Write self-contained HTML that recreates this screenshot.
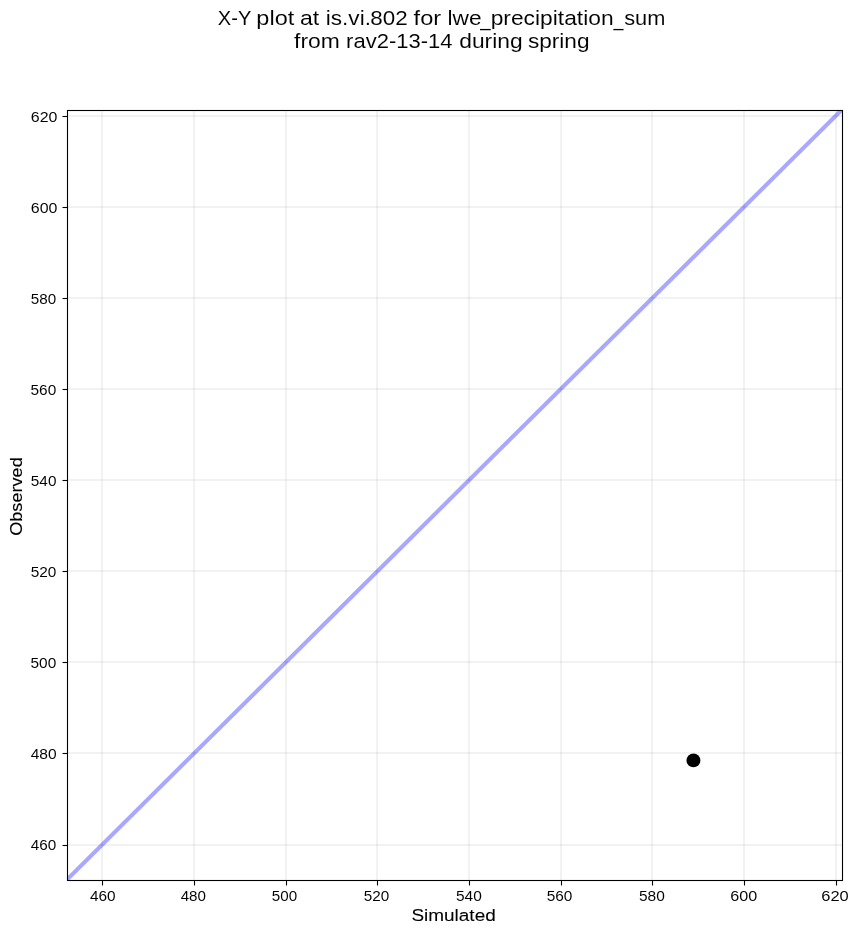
<!DOCTYPE html>
<html lang="en">
<head>
<meta charset="utf-8">
<title>X-Y plot at is.vi.802 for lwe_precipitation_sum</title>
<style>
html,body{margin:0;padding:0;background:#ffffff;}
body{width:858px;height:934px;overflow:hidden;}
svg{display:block;will-change:transform;}
text{font-family:"Liberation Sans",sans-serif;fill:#000000;}
.tick{font-size:14.1px;}
.tick text{stroke:#ffffff;stroke-width:0.03px;}
.lab{stroke:#000000;stroke-width:0.08px;}
.labv{stroke:#000000;stroke-width:0.135px;}
.ttl{stroke:#ffffff;stroke-width:0.06px;}
.lab{font-size:17.1px;}
.ttl{font-size:20px;}
</style>
</head>
<body>
<svg width="858" height="934" viewBox="0 0 858 934">
<rect x="0" y="0" width="858" height="934" fill="#ffffff"/>
<defs><clipPath id="ax"><rect x="67.5" y="110.5" width="775.0" height="770.0"/></clipPath></defs>

<g clip-path="url(#ax)">
<circle cx="693.45" cy="760.4" r="6.95" fill="#000000"/>
<g fill="rgba(128,128,128,0.10)" shape-rendering="crispEdges">
<rect x="101" y="110.5" width="2" height="770.0"/>
<rect x="193" y="110.5" width="2" height="770.0"/>
<rect x="285" y="110.5" width="2" height="770.0"/>
<rect x="376" y="110.5" width="2" height="770.0"/>
<rect x="468" y="110.5" width="2" height="770.0"/>
<rect x="560" y="110.5" width="2" height="770.0"/>
<rect x="651" y="110.5" width="2" height="770.0"/>
<rect x="743" y="110.5" width="2" height="770.0"/>
<rect x="835" y="110.5" width="2" height="770.0"/>
<rect x="67.5" y="844" width="775.0" height="2"/>
<rect x="67.5" y="752" width="775.0" height="2"/>
<rect x="67.5" y="661" width="775.0" height="2"/>
<rect x="67.5" y="570" width="775.0" height="2"/>
<rect x="67.5" y="479" width="775.0" height="2"/>
<rect x="67.5" y="388" width="775.0" height="2"/>
<rect x="67.5" y="297" width="775.0" height="2"/>
<rect x="67.5" y="206" width="775.0" height="2"/>
<rect x="67.5" y="115" width="775.0" height="2"/>
</g>
<line x1="67.5" y1="879.1" x2="842.5" y2="109.1" stroke="rgba(0,0,255,0.34)" stroke-width="4.1" stroke-linecap="square"/>
</g>
<g stroke="#000000" stroke-width="1.1">
<line x1="102.5" y1="880.5" x2="102.5" y2="885.5"/>
<line x1="194.5" y1="880.5" x2="194.5" y2="885.5"/>
<line x1="286.5" y1="880.5" x2="286.5" y2="885.5"/>
<line x1="377.5" y1="880.5" x2="377.5" y2="885.5"/>
<line x1="469.5" y1="880.5" x2="469.5" y2="885.5"/>
<line x1="561.5" y1="880.5" x2="561.5" y2="885.5"/>
<line x1="652.5" y1="880.5" x2="652.5" y2="885.5"/>
<line x1="744.5" y1="880.5" x2="744.5" y2="885.5"/>
<line x1="836.5" y1="880.5" x2="836.5" y2="885.5"/>
<line x1="62.5" y1="845.5" x2="67.5" y2="845.5"/>
<line x1="62.5" y1="753.5" x2="67.5" y2="753.5"/>
<line x1="62.5" y1="662.5" x2="67.5" y2="662.5"/>
<line x1="62.5" y1="571.5" x2="67.5" y2="571.5"/>
<line x1="62.5" y1="480.5" x2="67.5" y2="480.5"/>
<line x1="62.5" y1="389.5" x2="67.5" y2="389.5"/>
<line x1="62.5" y1="298.5" x2="67.5" y2="298.5"/>
<line x1="62.5" y1="207.5" x2="67.5" y2="207.5"/>
<line x1="62.5" y1="116.5" x2="67.5" y2="116.5"/>
</g>
<rect x="67.5" y="110.5" width="775.0" height="770.0" fill="none" stroke="#000000" stroke-width="1.1"/>
<g class="tick">
<text x="89.92" y="900.9" textLength="25.69" lengthAdjust="spacingAndGlyphs">460</text>
<text x="180.66" y="900.9" textLength="25.29" lengthAdjust="spacingAndGlyphs">480</text>
<text x="271.83" y="900.9" textLength="25.38" lengthAdjust="spacingAndGlyphs">500</text>
<text x="363.82" y="900.9" textLength="25.45" lengthAdjust="spacingAndGlyphs">520</text>
<text x="456.0" y="900.9" textLength="25.84" lengthAdjust="spacingAndGlyphs">540</text>
<text x="546.72" y="900.9" textLength="25.69" lengthAdjust="spacingAndGlyphs">560</text>
<text x="639.0" y="900.9" textLength="25.84" lengthAdjust="spacingAndGlyphs">580</text>
<text x="730.38" y="900.9" textLength="26.96" lengthAdjust="spacingAndGlyphs">600</text>
<text x="821.22" y="900.9" textLength="27.48" lengthAdjust="spacingAndGlyphs">620</text>
<text x="30.87" y="849.8" textLength="25.51" lengthAdjust="spacingAndGlyphs">460</text>
<text x="30.68" y="758.9" textLength="25.95" lengthAdjust="spacingAndGlyphs">480</text>
<text x="30.54" y="667.9" textLength="25.74" lengthAdjust="spacingAndGlyphs">500</text>
<text x="30.72" y="576.9" textLength="25.69" lengthAdjust="spacingAndGlyphs">520</text>
<text x="30.83" y="485.9" textLength="25.58" lengthAdjust="spacingAndGlyphs">540</text>
<text x="30.54" y="394.9" textLength="25.74" lengthAdjust="spacingAndGlyphs">560</text>
<text x="30.83" y="303.9" textLength="25.38" lengthAdjust="spacingAndGlyphs">580</text>
<text x="30.87" y="212.9" textLength="26.64" lengthAdjust="spacingAndGlyphs">600</text>
<text x="30.87" y="121.9" textLength="26.64" lengthAdjust="spacingAndGlyphs">620</text>
</g>
<text class="lab" x="411.4" y="921.2" textLength="84.34" lengthAdjust="spacingAndGlyphs">Simulated</text>
<text class="lab labv" transform="translate(22.2 535.85) rotate(-90)" x="0" y="0" textLength="78.61" lengthAdjust="spacingAndGlyphs">Observed</text>
<text class="ttl" x="217.8" y="25.0" textLength="33.5" lengthAdjust="spacingAndGlyphs">X-Y</text>
<text class="ttl" x="256.39" y="25.0" textLength="37.82" lengthAdjust="spacingAndGlyphs">plot</text>
<text class="ttl" x="299.99" y="25.0" textLength="19.24" lengthAdjust="spacingAndGlyphs">at</text>
<text class="ttl"><tspan x="325.8" y="25.0" textLength="45.13" lengthAdjust="spacingAndGlyphs">is.vi.</tspan><tspan x="370.39" y="25.0" textLength="37.35" lengthAdjust="spacingAndGlyphs">802</tspan></text>
<text class="ttl" x="413.61" y="25.0" textLength="27.56" lengthAdjust="spacingAndGlyphs">for</text>
<text class="ttl"><tspan x="447.46" y="25.0" textLength="34.07" lengthAdjust="spacingAndGlyphs">lwe</tspan><tspan x="480.13" y="25.5" textLength="10.4" lengthAdjust="spacingAndGlyphs">_</tspan><tspan x="490.7" y="25.0" textLength="122.87" lengthAdjust="spacingAndGlyphs">precipitation</tspan><tspan x="613.58" y="25.5" textLength="9.9" lengthAdjust="spacingAndGlyphs">_</tspan><tspan x="624.15" y="25.0" textLength="41.19" lengthAdjust="spacingAndGlyphs">sum</tspan></text>
<text class="ttl" x="294.04" y="47.9" textLength="45.74" lengthAdjust="spacingAndGlyphs">from</text>
<text class="ttl" x="346.1" y="47.9" textLength="106.47" lengthAdjust="spacingAndGlyphs">rav2-13-14</text>
<text class="ttl" x="459.21" y="47.9" textLength="63.37" lengthAdjust="spacingAndGlyphs">during</text>
<text class="ttl" x="527.9" y="47.9" textLength="61.63" lengthAdjust="spacingAndGlyphs">spring</text>
</svg>
</body>
</html>
